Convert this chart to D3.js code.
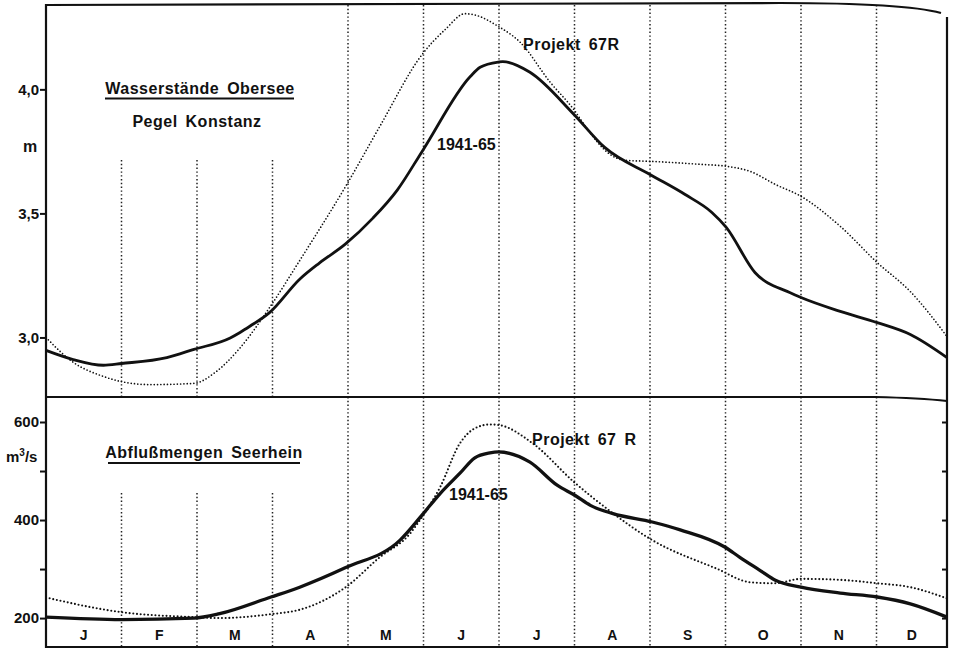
<!DOCTYPE html>
<html>
<head>
<meta charset="utf-8">
<script src="https://cdn.jsdelivr.net/npm/d3@7"></script>
<style>
  html, body { margin: 0; padding: 0; background: #fff; }
  svg { display: block; }
  text { font-family: "Liberation Sans", Arial, sans-serif; font-weight: bold; fill: #111; }
</style>
</head>
<body>
<svg id="chart" width="955" height="648"></svg>
<script>
// ---------- DATA ----------
const months = ["J","F","M","A","M","J","J","A","S","O","N","D"];
const monthBoundaries = [1,2,3,4,5,6,7,8,9,10,11];
const shortBoundaries = [1,2,3];          // lines that start lower in each panel

// Upper panel: Wasserstände Obersee, Pegel Konstanz (m)
const levelTicks = [3.0, 3.5, 4.0];
const levelHistT = [0,0.36,0.76,1,1.6,1.96,2.44,2.57,2.7,2.96,3.36,3.62,3.96,4.33,4.65,4.99,5.62,5.75,5.99,6.05,6.41,6.99,7.4,8,8.46,8.82,9.01,9.39,9.85,10,10.52,11.01,11.48,12];
const levelHist  = [2.948,2.911,2.888,2.895,2.919,2.952,2.998,3.02,3.045,3.1,3.235,3.30,3.375,3.481,3.593,3.754,4.052,4.089,4.11,4.112,4.069,3.9,3.766,3.657,3.577,3.504,3.444,3.262,3.181,3.161,3.105,3.06,3.012,2.919];
const levelProjT = [0,0.36,0.76,1,1.38,1.96,2.24,2.57,2.96,3.36,3.99,4.42,4.98,5.29,5.55,5.68,5.99,6.28,6.68,6.99,7.2,7.47,7.67,8,8.66,9.01,9.33,9.66,10,10.52,11.01,11.48,12];
const levelProj  = [3.0,2.9,2.843,2.822,2.81,2.815,2.859,2.958,3.12,3.31,3.62,3.85,4.14,4.242,4.305,4.30,4.254,4.19,4.028,3.919,3.827,3.738,3.714,3.71,3.698,3.69,3.669,3.617,3.569,3.448,3.302,3.185,3.004];

// Lower panel: Abflußmengen Seerhein (m³/s)
const flowTicks = [200, 300, 400, 500, 600];
const flowLabels = [200, 400, 600];
const flowHistT = [0,1,1.96,2.3,2.98,3.36,3.97,4.69,4.98,5.22,5.48,5.68,5.88,5.99,6.41,6.77,7.01,7.21,7.51,8.03,8.4,8.99,9.19,9.46,9.66,10,10.52,11.01,11.48,12];
const flowHist  = [202,197,200,209,243,263,303,359,410,454,495,527,537,539,518,471,450,430,413,396,380,345,324,297,277,263,251,243,229,202];
const flowProjT = [0,1,1.96,2.3,2.98,3.36,3.97,4.42,4.82,4.98,5.22,5.48,5.68,5.88,5.99,6.45,6.99,7.43,8.03,8.88,9.33,9.66,10,10.52,11.01,11.48,12];
const flowProj  = [242,212,202,200,208,217,263,324,372,406,467,556,587,595,594,556,478,423,359,301,273,271,280,278,271,263,240];

// ---------- LAYOUT ----------
const L = 46, R = 947;
const topY0 = 5, midY = 397, botY = 647;

const svg = d3.select("#chart");

const x = d3.scaleLinear().domain([0, 11, 12]).range([L, 876.5, R]);
const yTop = d3.scaleLinear().domain([2.76, 4.34]).range([midY, topY0]);
const yBot = d3.scaleLinear().domain([141, 651]).range([botY, midY]);

// ---------- GRID (dotted month lines) ----------
const grid = svg.append("g");
grid.selectAll("line.gt").data(monthBoundaries).enter().append("line")
  .attr("x1", d => x(d)).attr("x2", d => x(d))
  .attr("y1", d => shortBoundaries.includes(d) ? 160 : topY0)
  .attr("y2", midY)
  .attr("stroke", "#222").attr("stroke-width", 1.5)
  .attr("stroke-dasharray", "1.4,2.4");
grid.selectAll("line.gb").data(monthBoundaries).enter().append("line")
  .attr("x1", d => x(d)).attr("x2", d => x(d))
  .attr("y1", d => shortBoundaries.includes(d) ? 493 : midY)
  .attr("y2", botY)
  .attr("stroke", "#222").attr("stroke-width", 1.5)
  .attr("stroke-dasharray", "1.4,2.4");

// ---------- FRAME ----------
const frame = svg.append("g").attr("fill", "none").attr("stroke", "#111").attr("stroke-width", 2.2);
frame.append("path").attr("d", `M${L},${topY0} L780,3 Q905,3 941,13`);
frame.append("line").attr("x1", L).attr("x2", L).attr("y1", topY0 - 1).attr("y2", 648);
frame.append("line").attr("x1", R).attr("x2", R).attr("y1", 17).attr("y2", 648);
frame.append("path").attr("d", `M${L},${midY} L875,${midY} Q920,398 ${R},401`);
frame.append("line").attr("x1", L).attr("x2", R).attr("y1", botY).attr("y2", botY);

// ---------- AXES ----------
const fmtComma = d => d3.format(".1f")(d).replace(".", ",");
const axTop = svg.append("g").attr("transform", `translate(${L},0)`)
  .call(d3.axisLeft(yTop).tickValues(levelTicks).tickSize(6).tickPadding(1).tickFormat(fmtComma));
const axBot = svg.append("g").attr("transform", `translate(${L},0)`)
  .call(d3.axisLeft(yBot).tickValues(flowTicks).tickSize(6).tickPadding(1)
    .tickFormat(d => flowLabels.includes(d) ? d : ""));
const axBotR = svg.append("g").attr("transform", `translate(${R},0)`)
  .call(d3.axisLeft(yBot).tickValues(flowTicks).tickSize(5).tickFormat(""));
axBotR.selectAll(".tick line").attr("x2", -5);
[axTop, axBot, axBotR].forEach(a => {
  a.select(".domain").remove();
  a.selectAll(".tick line").attr("stroke", "#111").attr("stroke-width", 2);
  a.selectAll(".tick text").attr("font-size", 15).attr("font-family", "Liberation Sans, Arial, sans-serif")
    .attr("font-weight", "bold").attr("fill", "#111");
});

// month labels
svg.append("g").selectAll("text").data(months).enter().append("text")
  .attr("x", (d, i) => (x(i) + x(i + 1)) / 2)
  .attr("y", 640)
  .attr("text-anchor", "middle")
  .attr("font-size", 14)
  .text(d => d);

// ---------- CURVES ----------
function drawSeries(tArr, vArr, yScale, solid, width) {
  const pts = tArr.map((t, i) => [t, vArr[i]]);
  const line = d3.line().x(d => x(d[0])).y(d => yScale(d[1])).curve(d3.curveMonotoneX);
  const p = svg.append("path").datum(pts).attr("d", line)
    .attr("fill", "none").attr("stroke", "#111").attr("stroke-width", width);
  if (!solid) p.attr("stroke-dasharray", "0," + (width + 1.6)).attr("stroke-linecap", "round");
  else p.attr("stroke-linejoin", "round");
}
drawSeries(levelProjT, levelProj, yTop, false, 1.7);
drawSeries(levelHistT, levelHist, yTop, true, 2.8);
drawSeries(flowProjT, flowProj, yBot, false, 2.1);
drawSeries(flowHistT, flowHist, yBot, true, 3.3);

// ---------- LABELS ----------
function label(txt, xx, yy, size, anchor, extra) {
  const t = svg.append("text").attr("x", xx).attr("y", yy).attr("font-size", size)
    .attr("text-anchor", anchor || "start").text(txt);
  if (extra) extra(t);
  return t;
}
const spaced = t => t.attr("letter-spacing", 0.5).attr("word-spacing", 3);

label("Wasserstände Obersee", 200, 94, 16, "middle", spaced);
svg.append("line").attr("x1", 105).attr("x2", 294).attr("y1", 98.5).attr("y2", 98.5)
  .attr("stroke", "#111").attr("stroke-width", 2);
label("Pegel Konstanz", 197, 127, 16, "middle", spaced);
label("m", 30, 152, 16, "middle");

label("Abflußmengen Seerhein", 204, 458, 16, "middle", spaced);
svg.append("line").attr("x1", 108).attr("x2", 300).attr("y1", 463).attr("y2", 463)
  .attr("stroke", "#111").attr("stroke-width", 2);

const unit = label("m", 6, 462, 15, "start");
unit.append("tspan").attr("dy", -6).attr("font-size", 10).text("3");
unit.append("tspan").attr("dy", 6).text("/s");

label("1941-65", 437, 150, 16, "start");
label("Projekt 67R", 523, 50, 16, "start", spaced);
label("1941-65", 449, 500, 16, "start");
label("Projekt 67 R", 532, 445, 16, "start", spaced);
</script>
</body>
</html>
